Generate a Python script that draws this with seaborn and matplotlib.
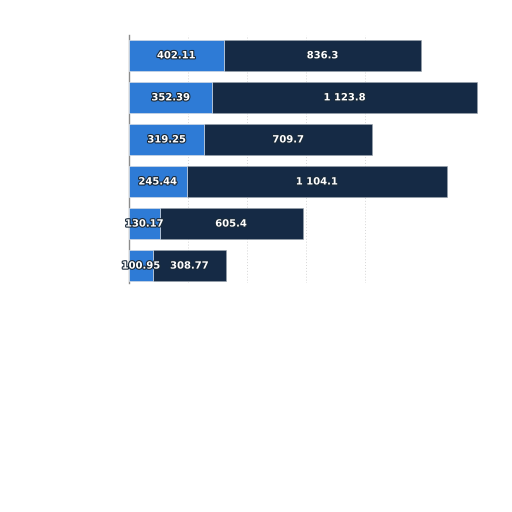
import matplotlib
matplotlib.use("Agg")
import matplotlib.pyplot as plt
import matplotlib.patheffects as pe
import seaborn as sns
import pandas as pd

categories = ["A", "B", "C", "D", "E", "F"]
first_values = [402.11, 352.39, 319.25, 245.44, 130.17, 100.95]
second_values = [836.3, 1123.8, 709.7, 1104.1, 605.4, 308.77]
first_labels = ["402.11", "352.39", "319.25", "245.44", "130.17", "100.95"]
second_labels = ["836.3", "1 123.8", "709.7", "1 104.1", "605.4", "308.77"]
grid_values = [250, 500, 750, 1000]

df = pd.DataFrame({
    "cat": categories,
    "first": first_values,
    "second": second_values,
})
df["total"] = df["first"] + df["second"]

sns.set_style("white")
fig = plt.figure(figsize=(5.12, 5.12), dpi=100)
ax = fig.add_axes([0.252, 0.447, 0.705, 0.485])

blue = "#2e7bd6"
navy = "#152a45"

sns.barplot(data=df, y="cat", x="total", orient="h", color=navy, width=0.74,
            saturation=1, ax=ax, edgecolor="#9aa3ad", linewidth=0.4, zorder=2)
sns.barplot(data=df, y="cat", x="first", orient="h", color=blue, width=0.74,
            saturation=1, ax=ax, edgecolor="#e8eef5", linewidth=0.5, zorder=3)

ax.set_xlim(0, 1530)
ax.set_ylim(5.417, -0.488)

for xv in grid_values:
    ax.axvline(xv, color="#d6d6d6", linestyle=(0, (1, 2)), linewidth=0.7, zorder=1)

stroke = [pe.withStroke(linewidth=1.6, foreground="#1a2a3a")]
for i in range(len(categories)):
    f = first_values[i]
    s = second_values[i]
    ax.text(f / 2, i, first_labels[i], ha="center", va="center", color="white",
            fontsize=7.2, fontweight="bold", path_effects=stroke, zorder=5)
    ax.text(f + s / 2, i, second_labels[i], ha="center", va="center", color="white",
            fontsize=7.2, fontweight="bold", path_effects=stroke, zorder=5)

ax.set_xlabel("")
ax.set_ylabel("")
ax.set_xticks([])
ax.set_yticks([])
for side in ["top", "right", "bottom"]:
    ax.spines[side].set_visible(False)
ax.spines["left"].set_color("#8c8c8c")
ax.spines["left"].set_linewidth(1.0)

fig.savefig("out.png", dpi=100, facecolor="white")
